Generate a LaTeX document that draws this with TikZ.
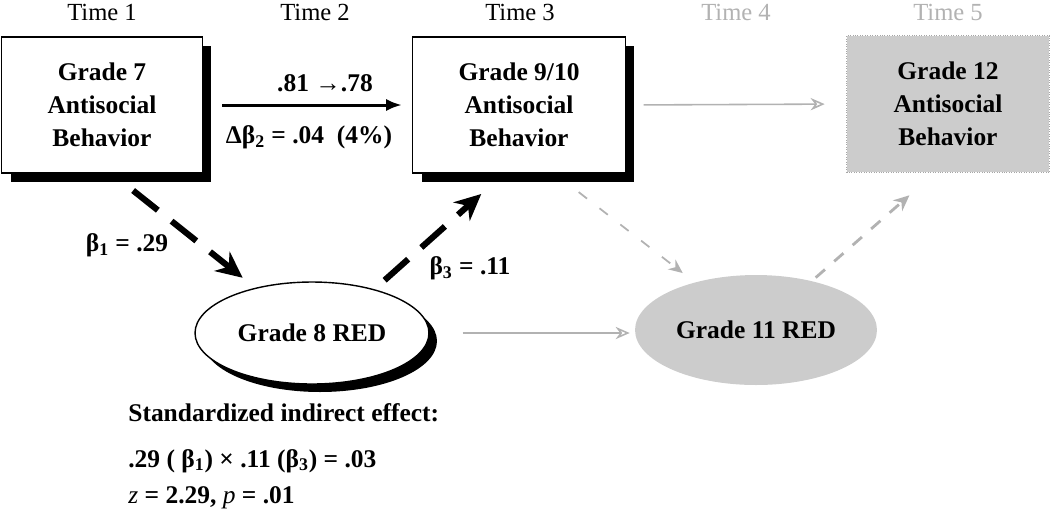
\documentclass[tikz,border=0pt]{standalone}
\usepackage{fontspec}
\setmainfont{Liberation Serif}
\usetikzlibrary{arrows.meta,shapes.geometric,shadows}

\begin{document}
\begin{tikzpicture}[x=0.02cm, y=-0.02cm,
	box style/.style={rectangle, draw, line width=0.8pt, fill=white, inner sep=0pt, align=center, font=\bfseries\fontsize{14.5}{18.7}\selectfont, drop shadow={shadow xshift=0.18cm, shadow yshift=-0.18cm, fill=black, opacity=1}},
	grey box style/.style={rectangle, draw=gray!70, densely dotted, fill=gray!40, inner sep=0pt, align=center, font=\bfseries\fontsize{14.5}{18.7}\selectfont},
	oval style/.style={ellipse, draw, line width=0.8pt, fill=white, inner sep=0pt, font=\bfseries\fontsize{14.5}{18.7}\selectfont, drop shadow={shadow xshift=0.16cm, shadow yshift=-0.16cm, fill=black, opacity=1}},
	grey oval style/.style={ellipse, fill=gray!40, inner sep=0pt, font=\bfseries\fontsize{14.5}{18.7}\selectfont},
	time style/.style={font=\fontsize{14}{16}\selectfont},
	label style/.style={font=\bfseries\fontsize{14.5}{18.7}\selectfont, inner sep=0pt},
	solid arrow/.style={line width=1.7pt, -{Latex[length=9pt, width=7pt]}},
	grey arrow/.style={gray!60, line width=0.9pt, -{Stealth[open, length=8pt, width=7pt]}},
	dash arrow/.style={line width=3.5pt, dash pattern=on 18pt off 10pt, -{Stealth[length=15pt, width=14pt]}},
	grey dash arrow/.style={gray!60, line width=1pt, dash pattern=on 6pt off 9pt, -{Stealth[length=8pt, width=7pt]}},
	grey wide dash arrow/.style={gray!60, line width=1.6pt, dash pattern=on 7pt off 7pt, -{Stealth[length=9pt, width=8pt]}}]
	\useasboundingbox (0,0) rectangle (1050,515);
	\foreach \t/\x in {1/102, 2/315, 3/520}
	\node[time style] (T\t) at (\x,12) {Time \t};
	\foreach \t/\x in {4/736, 5/948}
	\node[time style, gray!60] (T\t) at (\x,12) {Time \t};
	\node[box style, minimum width=4.02cm, minimum height=2.72cm] (G7) at (102,105) {Grade 7\\Antisocial\\Behavior};
	\node[box style, minimum width=4.26cm, minimum height=2.72cm] (G9) at (519,105) {Grade 9/10\\Antisocial\\Behavior};
	\node[grey box style, minimum width=4.06cm, minimum height=2.74cm] (G12) at (948,104) {Grade 12\\Antisocial\\Behavior};
	\node[oval style, minimum width=4.68cm, minimum height=2.04cm] (G8) at (312,333) {Grade 8 RED};
	\node[grey oval style, minimum width=4.84cm, minimum height=2.2cm] (G11) at (756,330) {Grade 11 RED};
	\draw[solid arrow, shorten <=0.38cm, shorten >=0.2cm] (G7.east) -- (G9.west);
	\draw[grey arrow, shorten <=0.35cm, shorten >=0.43cm] (G9.east) -- (G12.west);
	\draw[grey arrow, shorten <=0.66cm, shorten >=0.1cm] (G8.east) -- (G8.east -| G11.west);
	\draw[dash arrow, shorten <=0.54cm, shorten >=0.32cm] ([xshift=0.2cm]G7.south) -- (G8);
	\draw[dash arrow, shorten <=0.27cm, shorten >=0.61cm] (G8.35) -- ([xshift=-0.3cm]G9.south);
	\draw[grey dash arrow, shorten <=0.6cm, shorten >=0.3cm] ([xshift=0.72cm]G9.south) -- (G11);
	\draw[grey wide dash arrow, shorten <=0.1cm, shorten >=0.68cm] (G11) -- ([xshift=-0.26cm]G12.south);
	\node[label style] (R) at (325,83) {.81 →.78};
	\node[label style] (DB) at (309,137) {Δβ\textsubscript{2} = .04\ \ (4\%)};
	\node[label style] (B1) at (127,245) {β\textsubscript{1} = .29};
	\node[label style] (B3) at (470,268) {β\textsubscript{3} = .11};
	\node[label style, anchor=base west] (IE1) at (128,421) {Standardized indirect effect:};
	\node[label style, anchor=base west] (IE2) at (128,467) {.29 ( β\textsubscript{1}) × .11 (β\textsubscript{3}) = .03};
	\node[label style, anchor=base west] (IE3) at (128,503) {{\mdseries\itshape z} = 2.29, {\mdseries\itshape p} = .01};
\end{tikzpicture}
\end{document}
